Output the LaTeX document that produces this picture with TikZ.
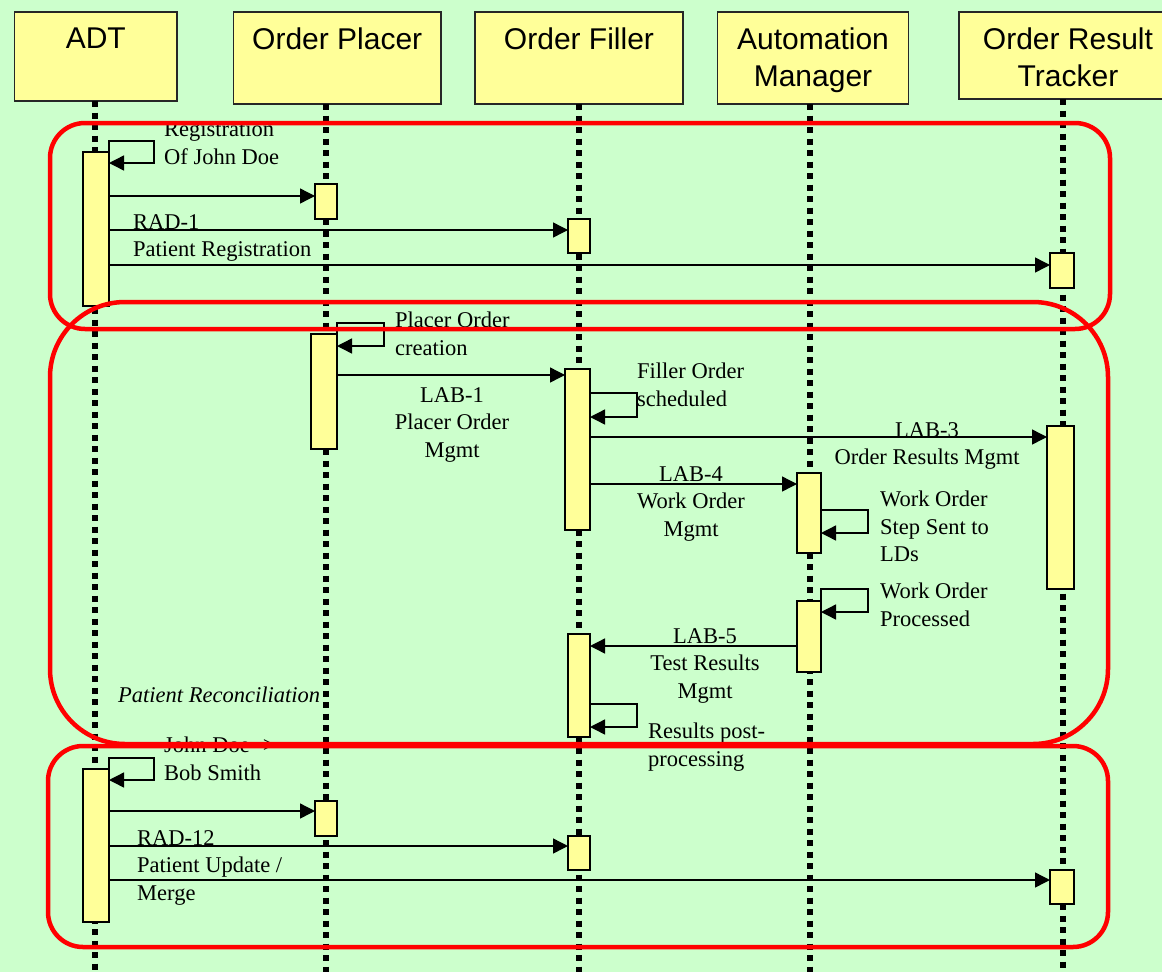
\documentclass[tikz,border=0pt]{standalone}
\usepackage{fontspec}
\setmainfont{Liberation Serif}
\newfontfamily\hdrfont{Liberation Sans}
\usetikzlibrary{arrows.meta}
\definecolor{seqGreen}{HTML}{CCFFCC}
\definecolor{seqYellow}{HTML}{FFFF99}
\definecolor{seqRed}{HTML}{FF0000}
\definecolor{seqEdge}{HTML}{262626}

\begin{document}
\begin{tikzpicture}[x=1pt,y=-1pt,line join=miter]
\clip (0,0) rectangle (1162,972);
\path[fill=seqGreen] (0,0) rectangle (1162,972);
\tikzset{hdbox/.style={draw=seqEdge,fill=seqYellow,line width=1.4pt,inner sep=0pt,outer sep=0pt,anchor=north west},hdtext/.style={font=\hdrfont\fontsize{30}{37}\selectfont,align=center,inner sep=0pt,anchor=north},lifeline/.style={draw=black,line width=6pt,dash pattern=on 6pt off 5.5pt},act/.style={draw=black,fill=seqYellow,line width=1.3pt,inner sep=0pt,outer sep=0pt,anchor=north west},msg/.style={draw=black,line width=1.4pt,-{Triangle[length=15pt,width=15pt]}},lbl/.style={font=\fontsize{22.5}{27.5}\selectfont,inner sep=0pt},grp/.style={draw=seqRed,line width=4.5pt}}
\node[hdbox,minimum width=162.5,minimum height=89] (adt) at (14.5,12) {};
\node[hdbox,minimum width=207.5,minimum height=92] (opl) at (233.5,12) {};
\node[hdbox,minimum width=208,minimum height=92] (ofl) at (475,12) {};
\node[hdbox,minimum width=191,minimum height=92] (aum) at (717.5,12) {};
\node[hdbox,minimum width=218,minimum height=87] (ort) at (959,12) {};
\node[hdtext] (adtLbl) at (adt.north |- 0,27.5) {ADT};
\node[hdtext] (oplLbl) at (opl.north |- 0,27.5) {Order Placer};
\node[hdtext] (oflLbl) at (ofl.north |- 0,27.5) {Order Filler};
\node[hdtext] (aumLbl) at (aum.north |- 0,27.5) {Automation\\Manager};
\node[hdtext] (ortLbl) at (ort.north |- 0,27.5) {Order Result\\Tracker};
\draw[lifeline] (adt.south -| 95,0) -- (95,972);
\draw[lifeline] (opl.south -| 326,0) -- (326,972);
\draw[lifeline] (ofl.south -| 578.5,0) -- (578.5,972);
\draw[lifeline] (aum.south -| 810,0) -- (810,972);
\draw[lifeline] (ort.south -| 1062.5,0) -- (1062.5,972);
\node[act,minimum width=26,minimum height=154] (a1) at (83,152) {};
\node[act,minimum width=26,minimum height=153] (a2) at (83,769) {};
\node[act,minimum width=22,minimum height=35] (b1) at (315,184) {};
\node[act,minimum width=26,minimum height=115] (b2) at (311,334) {};
\node[act,minimum width=22,minimum height=35] (b3) at (315,801) {};
\node[act,minimum width=22,minimum height=34] (c1) at (568,219) {};
\node[act,minimum width=25,minimum height=161] (c2) at (565,369) {};
\node[act,minimum width=22,minimum height=103] (c3) at (568,634) {};
\node[act,minimum width=22,minimum height=34] (c4) at (568,836) {};
\node[act,minimum width=24,minimum height=80] (d1) at (797,473) {};
\node[act,minimum width=24,minimum height=71] (d2) at (797,601) {};
\node[act,minimum width=24,minimum height=35] (e1) at (1050,253) {};
\node[act,minimum width=27,minimum height=163] (e2) at (1047,426) {};
\node[act,minimum width=24,minimum height=34] (e3) at (1050,870) {};
\draw[msg] (a1.north east) |- ++(45,-11) |- (a1.east |- 0,163);
\draw[msg] (a1.east |- 0,196) -- (b1.west |- 0,196);
\draw[msg] (a1.east |- 0,230) -- (c1.west |- 0,230);
\draw[msg] (a1.east |- 0,265) -- (e1.west |- 0,265);
\draw[msg] (b2.north east) |- ++(47,-11) |- (b2.east |- 0,346);
\draw[msg] (b2.east |- 0,375) -- (c2.west |- 0,375);
\draw[msg] (c2.east |- 0,393) -- ++(47,0) |- (c2.east |- 0,417);
\draw[msg] (c2.east |- 0,437) -- (e2.west |- 0,437);
\draw[msg] (c2.east |- 0,484) -- (d1.west |- 0,484);
\draw[msg] (d1.east |- 0,510) -- ++(47,0) |- (d1.east |- 0,533);
\draw[msg] (d2.north east) |- ++(47,-12) |- (d2.east |- 0,612);
\draw[msg] (d2.west |- 0,646) -- (c3.east |- 0,646);
\draw[msg] (c3.east |- 0,704) -- ++(47,0) |- (c3.east |- 0,727);
\draw[msg] (a2.north east) |- ++(45,-11) |- (a2.east |- 0,780);
\draw[msg] (a2.east |- 0,811) -- (b3.west |- 0,811);
\draw[msg] (a2.east |- 0,846) -- (c4.west |- 0,846);
\draw[msg] (a2.east |- 0,880) -- (e3.west |- 0,880);
\node[lbl,anchor=north west,align=left] (regLbl) at (164,121.5) {Registration\\Of John Doe};
\node[lbl,anchor=north west,align=left] (rad1Lbl) at (133,214) {RAD-1\\Patient Registration};
\node[lbl,anchor=north west,align=left] (pocLbl) at (395,312) {Placer Order\\creation};
\node[lbl,anchor=north,align=center] (lab1Lbl) at (452,387) {LAB-1\\Placer Order\\Mgmt};
\node[lbl,anchor=north west,align=left] (fosLbl) at (637,363) {Filler Order\\scheduled};
\node[lbl,anchor=north,align=center] (lab3Lbl) at (927,422) {LAB-3\\Order Results Mgmt};
\node[lbl,anchor=north,align=center] (lab4Lbl) at (691,466) {LAB-4\\Work Order\\Mgmt};
\node[lbl,anchor=north west,align=left] (wosLbl) at (880,491) {Work Order\\Step Sent to\\LDs};
\node[lbl,anchor=north west,align=left] (wopLbl) at (880,583) {Work Order\\Processed};
\node[lbl,anchor=north,align=center] (lab5Lbl) at (705,628) {LAB-5\\Test Results\\Mgmt};
\node[lbl,anchor=north west,align=left] (rppLbl) at (648,723) {Results post-\\processing};
\node[lbl,anchor=north west,font=\fontsize{22.5}{27.5}\selectfont\itshape] (recLbl) at (118,687) {Patient Reconciliation};
\node[lbl,anchor=north west,align=left] (jdbLbl) at (164,737) {John Doe ->\\Bob Smith};
\node[lbl,anchor=north west,align=left] (rad12Lbl) at (137,830) {RAD-12\\Patient Update /\\Merge};
\draw[grp,rounded corners=35pt] (50,123) rectangle (1110,329);
\draw[grp,rounded corners=75pt] (50,302) rectangle (1108,744);
\draw[grp,rounded corners=35pt] (48,746) rectangle (1108,947);
\end{tikzpicture}
\end{document}
